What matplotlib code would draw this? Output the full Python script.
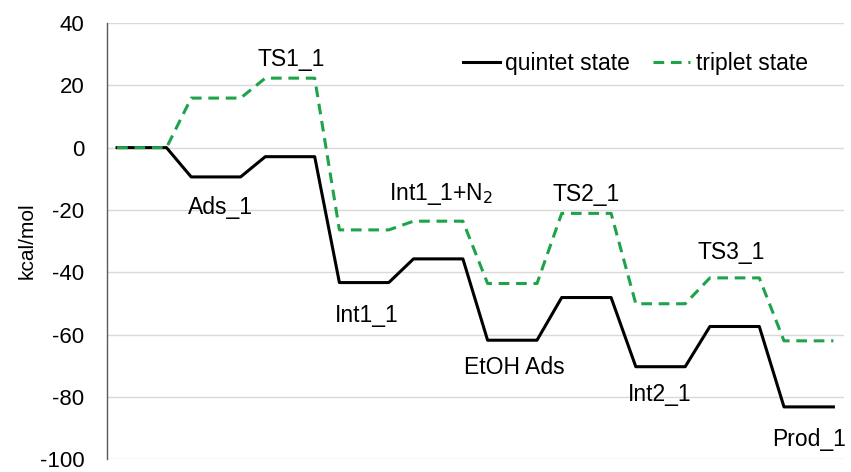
import matplotlib.pyplot as plt

plt.rcParams['font.family'] = ['Liberation Sans', 'DejaVu Sans']
plt.rcParams['axes.unicode_minus'] = False

# energy levels (kcal/mol) for every state along the path
states = ["Start", "Ads_1", "TS1_1", "Int1_1", "Int1_1+N$_2$", "EtOH Ads",
          "TS2_1", "Int2_1", "TS3_1", "Prod_1"]
quintet = [0, -9.4, -2.9, -43.3, -35.7, -61.8, -48.1, -70.3, -57.4, -83.2]
triplet = [0, 15.9, 22.3, -26.4, -23.6, -43.6, -21.1, -50.1, -41.8, -62.0]

# label placement (x in step units, y in kcal/mol); start level has no label
label_pos = {
    "Ads_1": (4.17, -19.3),
    "TS1_1": (7.05, 28.2),
    "Int1_1": (10.1, -54.0),
    "Int1_1+N$_2$": (13.1, -14.8),
    "EtOH Ads": (16.1, -70.5),
    "TS2_1": (19.0, -15.1),
    "Int2_1": (21.95, -79.1),
    "TS3_1": (24.87, -33.5),
    "Prod_1": (28.0, -93.7),
}


def step_profile(levels):
    # each level drawn as a flat segment 2 units wide, 1 unit connector between
    xs, ys = [], []
    for i, e in enumerate(levels):
        xs += [3 * i, 3 * i + 2]
        ys += [e, e]
    return xs, ys


fig = plt.figure(figsize=(8.51, 4.72), dpi=100)
ax = fig.add_axes([0.1254, 0.027, 0.8664, 0.9243])

xq, yq = step_profile(quintet)
xt, yt = step_profile(triplet)
ax.plot(xq, yq, color='black', lw=2.2, label='quintet state', zorder=3)
ax.plot(xt, yt, color='#1fa34a', lw=2.2, ls=(0, (3.5, 2.2)),
        label='triplet state', zorder=4)

for name, (x, y) in label_pos.items():
    ax.text(x, y, name, ha='center', va='center', fontsize=16.5)

ax.set_xlim(-0.42, 29.43)
ax.set_ylim(-100, 40)
ax.set_yticks(range(-100, 41, 20))
ax.set_xticks([])
ax.yaxis.grid(True, color='#d9d9d9', lw=1)
ax.set_axisbelow(True)
ax.tick_params(axis='y', length=0, pad=16, labelsize=16)
for side in ['top', 'right', 'bottom']:
    ax.spines[side].set_visible(False)
ax.spines['left'].set_color('#595959')
ax.spines['left'].set_linewidth(1)
ax.set_ylabel('kcal/mol', fontsize=15, labelpad=2)

ax.legend(loc='center left', bbox_to_anchor=(0.4833, 0.908), ncol=2,
          frameon=False, fontsize=16.5, handlelength=1.6, handletextpad=0.25,
          columnspacing=1.0, borderpad=0, borderaxespad=0)

fig.savefig('out.png', dpi=100)
